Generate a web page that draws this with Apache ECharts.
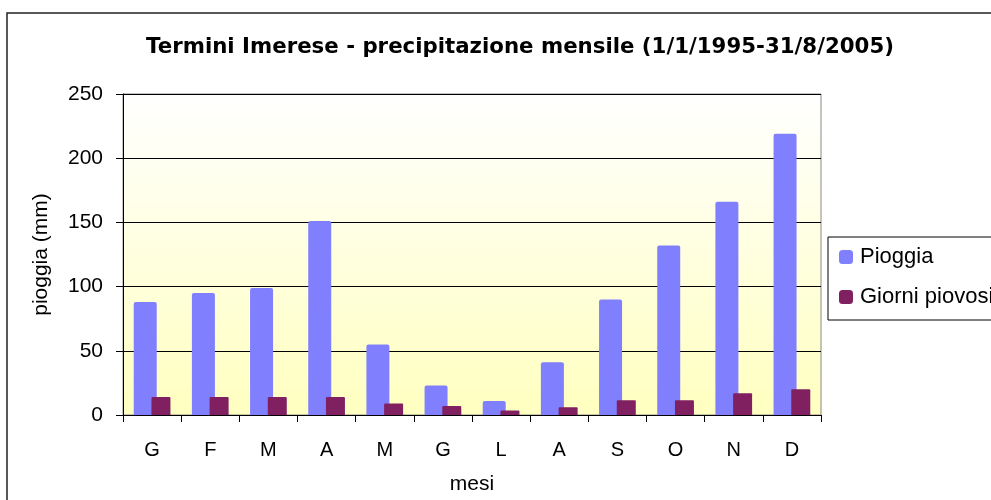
<!DOCTYPE html>
<html>
<head>
<meta charset="utf-8">
<script src="https://cdn.jsdelivr.net/npm/echarts@6/dist/echarts.min.js"></script>
<style>html,body{margin:0;padding:0;background:#fff}#c{width:991px;height:500px}</style>
</head>
<body>
<div id="c"></div>
<script>
const months = ['G','F','M','A','M','G','L','A','S','O','N','D'];
const pioggia = [88, 95, 99, 151, 55, 23, 11, 41, 90, 132, 166, 219];
const giorniPiovosi = [14, 14, 14, 14, 9, 7, 3.5, 6, 11.5, 11.5, 17, 20];
const yTicks = {min: 0, max: 250, interval: 50};

const FONT = 'Liberation Sans, Arial, sans-serif';
const chart = echarts.init(document.getElementById('c'), null, {renderer: 'canvas'});
chart.setOption({
  backgroundColor: '#ffffff',
  animation: false,
  title: {
    text: 'Termini Imerese - precipitazione mensile (1/1/1995-31/8/2005)',
    left: 515, top: 32, textAlign: 'center',
    textStyle: {fontFamily: 'DejaVu Sans', fontSize: 21.3, fontWeight: 'bold', color: '#000'}
  },
  graphic: [{
    type: 'rect', z: 100, silent: true,
    shape: {x: 7, y: 13, width: 1200, height: 800},
    style: {fill: 'none', stroke: '#222', lineWidth: 1.5}
  }],
  legend: {
    orient: 'vertical', left: 828, top: 237,
    padding: [9, 40, 12, 11],
    itemWidth: 14, itemHeight: 14, itemGap: 18,
    borderColor: '#000', borderWidth: 1,
    icon: 'roundRect',
    textStyle: {fontFamily: FONT, fontSize: 22, color: '#000', padding: [0, 0, 0, 2]},
    data: ['Pioggia', 'Giorni piovosi']
  },
  grid: {
    left: 123, right: 170, top: 94, bottom: 83,
    show: true,
    borderColor: '#888', borderWidth: 1,
    backgroundColor: new echarts.graphic.LinearGradient(0, 0, 0, 1, [
      {offset: 0, color: '#ffffff'},
      {offset: 1, color: '#ffffc0'}
    ])
  },
  xAxis: {
    type: 'category', data: months,
    name: 'mesi', nameLocation: 'middle', nameGap: 59,
    nameTextStyle: {fontFamily: FONT, fontSize: 21, color: '#000'},
    axisLine: {lineStyle: {color: '#000', width: 1}},
    axisTick: {show: true, length: 7, alignWithLabel: false, lineStyle: {color: '#000'}},
    axisLabel: {fontFamily: FONT, fontSize: 20, color: '#000', margin: 25},
    splitLine: {show: false}
  },
  yAxis: {
    type: 'value', min: yTicks.min, max: yTicks.max, interval: yTicks.interval,
    name: 'pioggia (mm)', nameLocation: 'middle', nameGap: 71,
    nameTextStyle: {fontFamily: FONT, fontSize: 21, color: '#000'},
    axisLine: {show: true, lineStyle: {color: '#000', width: 1}},
    axisTick: {show: true, length: 7, lineStyle: {color: '#000'}},
    axisLabel: {fontFamily: FONT, fontSize: 21, color: '#000', margin: 20},
    splitLine: {show: true, lineStyle: {color: '#000', width: 1}}
  },
  series: [
    {
      name: 'Pioggia', type: 'bar', data: pioggia,
      barWidth: 23, barGap: '-23%',
      itemStyle: {color: '#8080ff', borderRadius: [2, 2, 0, 0]}
    },
    {
      name: 'Giorni piovosi', type: 'bar', data: giorniPiovosi,
      barWidth: 19,
      itemStyle: {color: '#802060', borderRadius: [1, 1, 0, 0]}
    }
  ]
});
</script>
</body>
</html>
